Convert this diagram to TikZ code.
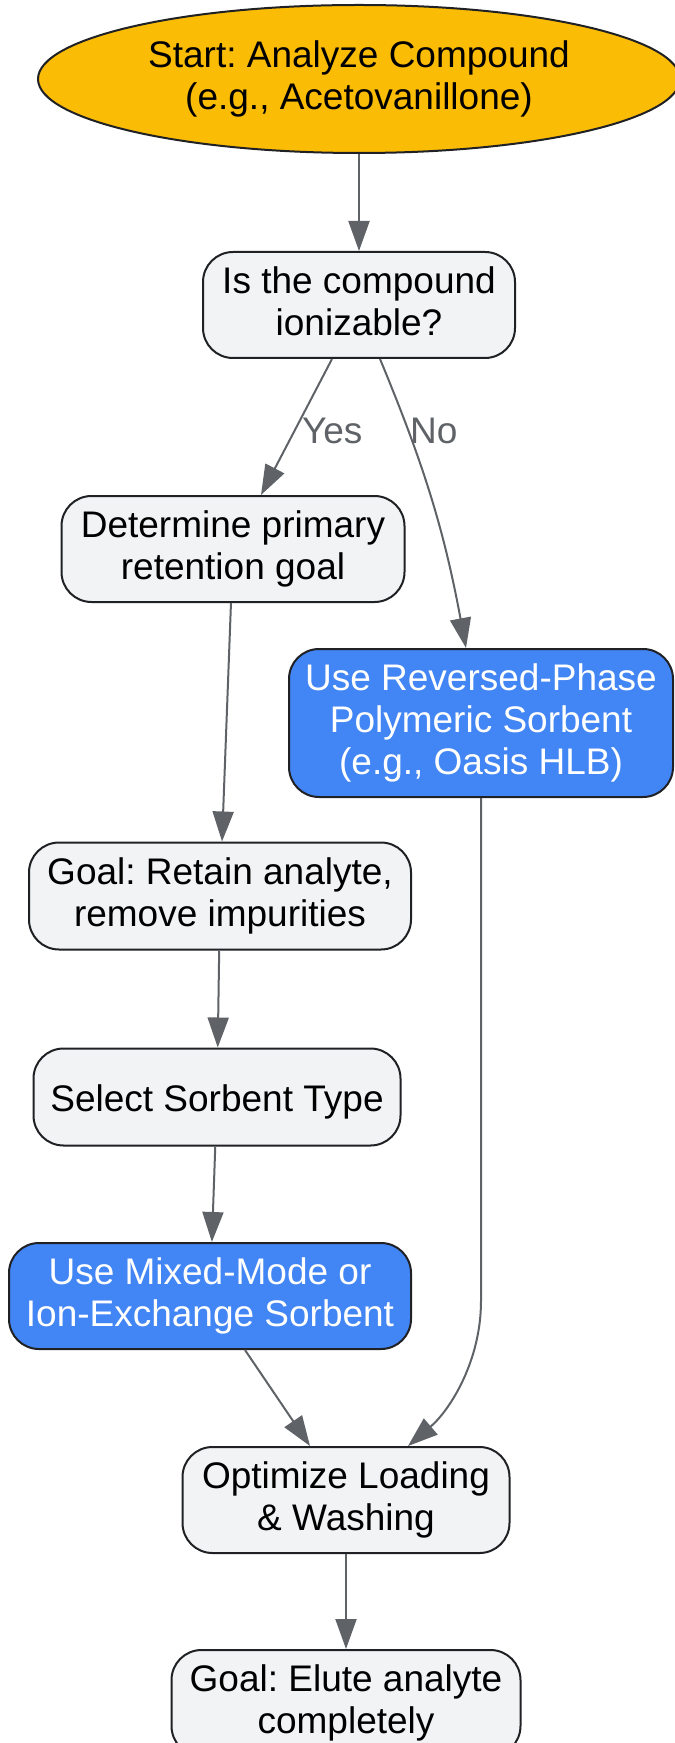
\documentclass[tikz,border=0pt]{standalone}
\usepackage{fontspec}
\setmainfont{Liberation Sans}
\usetikzlibrary{arrows.meta,shapes.geometric,positioning}
\definecolor{startyellow}{HTML}{FBBC05}
\definecolor{useblue}{HTML}{4285F4}
\definecolor{boxgrey}{HTML}{F1F3F4}
\definecolor{edgegrey}{HTML}{5F6368}
\definecolor{borderdark}{HTML}{202124}
\newcommand{\linestrut}{\rule[-3.9pt]{0pt}{22.6pt}}
\frenchspacing

\begin{document}
\begin{tikzpicture}[x=0.5pt,y=-0.5pt,
  font=\fontsize{18.5}{21}\selectfont,
  box/.style={draw=borderdark,line width=1pt,rounded corners=15pt,fill=boxgrey,align=center,inner sep=0pt,
    execute at begin node=\linestrut,execute at end node=\linestrut},
  usebox/.style={box,fill=useblue,text=white},
  startbox/.style={ellipse,draw=borderdark,line width=1pt,fill=startyellow,align=center,inner sep=0pt,
    execute at begin node=\linestrut,execute at end node=\linestrut},
  arr/.style={draw=edgegrey,line width=1pt,-{Triangle[length=15pt,width=10.5pt]}},
  lbl/.style={text=edgegrey}]
\useasboundingbox (0,0) rectangle (674,1743);
\node[startbox,minimum width=321pt,minimum height=74pt] (start) at (359,79) {Start: Analyze Compound\\(e.g., Acetovanillone)};
\node[box,minimum width=156pt,minimum height=53pt] (ion) at (359,305) {Is the compound\\ionizable?};
\node[box,minimum width=171.5pt,minimum height=53pt] (det) at (233,549) {Determine primary\\retention goal};
\node[usebox,minimum width=192pt,minimum height=74pt] (rev) at (481,723) {Use Reversed-Phase\\Polymeric Sorbent\\(e.g., Oasis HLB)};
\node[box,minimum width=191pt,minimum height=53.5pt] (goalret) at (220,896) {Goal: Retain analyte,\\remove impurities};
\node[box,minimum width=183.5pt,minimum height=48.5pt] (sel) at (217,1097) {Select Sorbent Type};
\node[usebox,minimum width=201pt,minimum height=53pt] (mix) at (210,1296) {Use Mixed-Mode or\\Ion-Exchange Sorbent};
\node[box,minimum width=163.5pt,minimum height=53pt] (opt) at (346,1500) {Optimize Loading\\\& Washing};
\node[box,minimum width=174.5pt,minimum height=53pt] (elute) at (346,1703) {Goal: Elute analyte\\completely};

\draw[arr] (start) -- (ion);
\draw[arr] ([xshift=-13.5pt]ion.south) -- node[lbl,right,pos=0.53] {Yes} ([xshift=14pt]det.north);
\draw[arr] ([xshift=10.5pt]ion.south) to[bend left=6] node[lbl,right,pos=0.24,xshift=-3pt] {No} ([xshift=-7.5pt]rev.north);
\draw[arr] (det) -- (goalret);
\draw[arr] (goalret) -- (sel);
\draw[arr] (sel) -- (mix);
\draw[arr] ([xshift=17.5pt]mix.south) -- ([xshift=-18pt]opt.north);
\draw[arr] (rev.south) -- ++(0,503) .. controls +(0,60) and (450,1410) .. ([xshift=31pt]opt.north);
\draw[arr] (opt) -- (elute);
\end{tikzpicture}
\end{document}
